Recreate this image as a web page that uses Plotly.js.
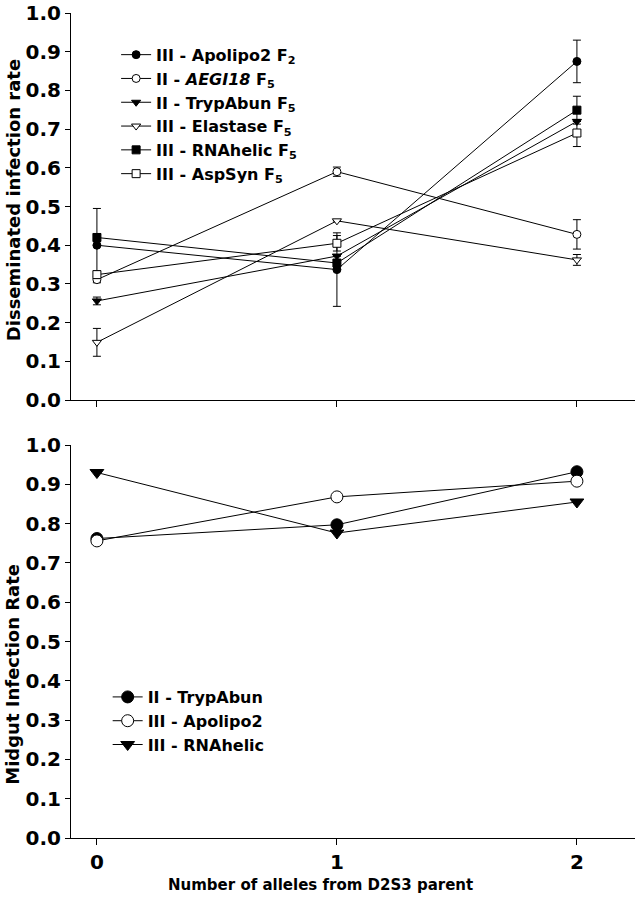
<!DOCTYPE html>
<html>
<head>
<meta charset="utf-8">
<script src="https://cdn.plot.ly/plotly-3.0.1.min.js"></script>
<style>html,body{margin:0;padding:0;background:#fff;}#chart{width:635px;height:900px;}</style>
</head>
<body>
<div id="chart"></div>
<script>
// x categories: number of alleles
const alleles = [0, 1, 2];
const xTickLabels = ['0', '1', '2'];

// Top panel: disseminated infection rate
const dissApolipo2F2 = [0.400, 0.337, 0.875];
const dissApolipo2F2Err = [0.095, 0.095, 0.055];
const dissAEGI18F5 = [0.311, 0.590, 0.428];
const dissAEGI18F5Err = [0.008, 0.012, 0.038];
const dissTrypAbunF5 = [0.256, 0.372, 0.720];
const dissTrypAbunF5Err = [0.010, null, null];
const dissElastaseF5 = [0.149, 0.463, 0.362];
const dissElastaseF5Err = [0.036, null, 0.014];
const dissRNAhelicF5 = [0.420, 0.354, 0.749];
const dissRNAhelicF5Err = [0.010, null, 0.036];
const dissAspSynF5 = [0.324, 0.405, 0.690];
const dissAspSynF5Err = [0.010, 0.020, 0.035];

// Bottom panel: midgut infection rate
const midTrypAbun = [0.762, 0.797, 0.932];
const midApolipo2 = [0.756, 0.868, 0.908];
const midRNAhelic = [0.930, 0.776, 0.855];

const FONT = 'DejaVu Sans';
const errStyle = (arr) => ({type: 'data', array: arr, visible: true, color: '#000', thickness: 1, width: 4});

function topTrace(name, y, err, symbol, fill) {
  return {
    x: alleles, y: y, name: name, type: 'scatter', mode: 'lines+markers',
    xaxis: 'x', yaxis: 'y', legend: 'legend',
    line: {color: '#000', width: 1},
    marker: {symbol: symbol, size: 8, color: fill, line: {color: '#000', width: 1}},
    error_y: errStyle(err)
  };
}
function botTrace(name, y, symbol, fill) {
  return {
    x: alleles, y: y, name: name, type: 'scatter', mode: 'lines+markers',
    xaxis: 'x2', yaxis: 'y2', legend: 'legend2',
    line: {color: '#000', width: 1},
    marker: {symbol: symbol, size: 12, color: fill, line: {color: '#000', width: 1}}
  };
}

const traces = [
  topTrace('III - Apolipo2 F<sub>2</sub>', dissApolipo2F2, dissApolipo2F2Err, 'circle', '#000'),
  topTrace('II - <i>AEGI18</i> F<sub>5</sub>', dissAEGI18F5, dissAEGI18F5Err, 'circle', '#fff'),
  topTrace('II - TrypAbun F<sub>5</sub>', dissTrypAbunF5, dissTrypAbunF5Err, 'triangle-down', '#000'),
  topTrace('III - Elastase F<sub>5</sub>', dissElastaseF5, dissElastaseF5Err, 'triangle-down', '#fff'),
  topTrace('III - RNAhelic F<sub>5</sub>', dissRNAhelicF5, dissRNAhelicF5Err, 'square', '#000'),
  topTrace('III - AspSyn F<sub>5</sub>', dissAspSynF5, dissAspSynF5Err, 'square', '#fff'),
  botTrace('II - TrypAbun', midTrypAbun, 'circle', '#000'),
  botTrace('III - Apolipo2', midApolipo2, 'circle', '#fff'),
  botTrace('III - RNAhelic', midRNAhelic, 'triangle-down', '#000')
];

const tickFont = {family: FONT, size: 20, color: '#000', weight: 'bold'};
const titleFont = {family: FONT, size: 18, color: '#000', weight: 'bold'};
const xTitleFont = {family: FONT, size: 15, color: '#000', weight: 'bold'};
const yCommon = {
  range: [0, 1.0001], dtick: 0.1, tick0: 0, tickformat: '.1f',
  showline: true, linecolor: '#000', linewidth: 1,
  ticks: 'outside', ticklen: 5, tickcolor: '#000',
  showgrid: false, zeroline: false, tickfont: tickFont, ticklabeloverflow: 'allow'
};
const xCommon = {
  range: [-0.108, 2.242], tickvals: alleles, ticktext: xTickLabels,
  showline: true, linecolor: '#000', linewidth: 1,
  ticks: 'outside', ticklen: 6, tickcolor: '#000',
  showgrid: false, zeroline: false, tickfont: tickFont, ticklabeloverflow: 'allow'
};

const layout = {
  width: 635, height: 900,
  margin: {l: 71, r: 0, t: 13, b: 62},
  paper_bgcolor: '#fff', plot_bgcolor: '#fff',
  showlegend: true,
  xaxis: Object.assign({}, xCommon, {anchor: 'y', showticklabels: false}),
  yaxis: Object.assign({}, yCommon, {domain: [0.5309, 1], anchor: 'x'}),
  xaxis2: Object.assign({}, xCommon, {anchor: 'y2'}),
  yaxis2: Object.assign({}, yCommon, {domain: [0, 0.4764], anchor: 'x2'}),
  legend: {x: 0.08, y: 0.970, xanchor: 'left', yanchor: 'top',
    bgcolor: 'rgba(0,0,0,0)', borderwidth: 0, tracegroupgap: 0,
    font: {family: FONT, size: 16, color: '#000', weight: 'bold'}},
  legend2: {x: 0.065, y: 0.1915, xanchor: 'left', yanchor: 'top',
    bgcolor: 'rgba(0,0,0,0)', borderwidth: 0, tracegroupgap: 0,
    font: {family: FONT, size: 16, color: '#000', weight: 'bold'}},
  annotations: [
    {text: 'Disseminated infection rate', textangle: -90, font: titleFont,
     xref: 'paper', yref: 'paper', x: -0.103, y: 0.773, xanchor: 'center', yanchor: 'middle', showarrow: false},
    {text: 'Midgut Infection Rate', textangle: -90, font: titleFont,
     xref: 'paper', yref: 'paper', x: -0.103, y: 0.199, xanchor: 'center', yanchor: 'middle', showarrow: false},
    {text: 'Number of alleles from D2S3 parent', font: xTitleFont,
     xref: 'paper', yref: 'paper', x: 0.442, y: -0.057, xanchor: 'center', yanchor: 'middle', showarrow: false}
  ]
};

Plotly.newPlot('chart', traces, layout, {displayModeBar: false, staticPlot: true});
</script>
</body>
</html>
